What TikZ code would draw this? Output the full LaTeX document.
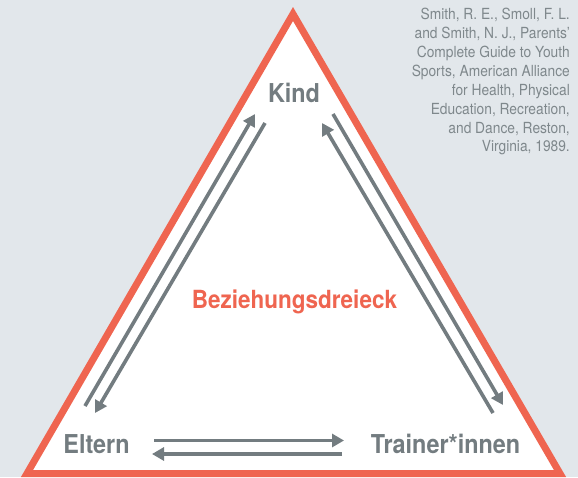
\documentclass[tikz,border=0pt]{standalone}
\usepackage{fontspec}
\setmainfont[FakeStretch=0.9]{TeX Gyre Heros}
\usetikzlibrary{arrows.meta}
\definecolor{bg}{HTML}{E2E7EB}
\definecolor{accent}{HTML}{EF6550}
\definecolor{label}{HTML}{737C80}
\definecolor{note}{HTML}{7F888C}
\definecolor{arrowgray}{HTML}{737C80}

\begin{document}
\begin{tikzpicture}[x=1pt,y=-1pt,
  frame/.style={draw=accent,fill=white,line width=7pt,line join=miter},
  role/.style={font=\fontsize{26}{26}\selectfont\bfseries,text=label,inner sep=0pt,anchor=base},
  title/.style={font=\fontsize{25}{25}\selectfont\bfseries,text=accent,inner sep=0pt,anchor=base},
  source/.style={font=\fontsize{15.3}{18.9}\selectfont,text=note,inner sep=0pt,align=right,anchor=north east},
  link/.style={draw=arrowgray,line width=3.6pt,-{Triangle[length=12pt,width=13pt]}},
]
% page background
\fill[bg] (0,0) rectangle (578,477);
\useasboundingbox (0,0) rectangle (578,477);

% the relationship triangle
\draw[frame] (293,14) -- (560,473.5) -- (27,473.5) -- cycle;

% the three parties
\node[role] (kind) at (294,102) {Kind};
\node[role] (eltern) at (96.5,453) {Eltern};
\node[role] (trainer) at (445.5,453) {Trainer*innen};
\node[title] (dreieck) at (294.5,308) {Beziehungsdreieck};

% source reference
\node[source] (quelle) at (570,8) {Smith, R. E., Smoll, F. L.\\
and Smith, N. J., Parents’\\
Complete Guide to Youth\\
Sports, American Alliance\\
for Health, Physical\\
Education, Recreation,\\
and Dance, Reston,\\
Virginia, 1989.};

% arrow end points
\coordinate (ek-from) at (85,406);
\coordinate (ek-to)   at (255,114);
\coordinate (ke-from) at (265,123);
\coordinate (ke-to)   at (95,413);
\coordinate (tk-from) at (493,413);
\coordinate (tk-to)   at (322,123);
\coordinate (kt-from) at (333,114);
\coordinate (kt-to)   at (503,405);
\coordinate (et-from) at (154,440.5);
\coordinate (et-to)   at (344,440.5);
\coordinate (te-from) at (342,454);
\coordinate (te-to)   at (152,454);

% two-way relations along each side
\draw[link] (ek-from) -- (ek-to);
\draw[link] (ke-from) -- (ke-to);
\draw[link] (tk-from) -- (tk-to);
\draw[link] (kt-from) -- (kt-to);
\draw[link] (et-from) -- (et-to);
\draw[link] (te-from) -- (te-to);
\end{tikzpicture}
\end{document}
